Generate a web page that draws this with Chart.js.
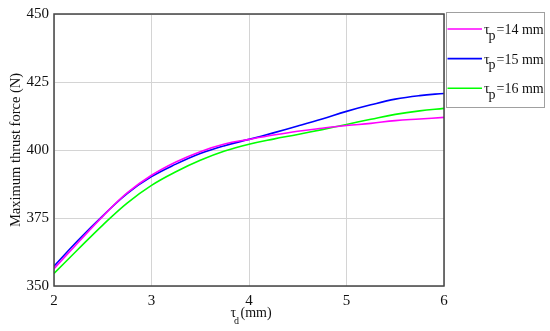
<!DOCTYPE html>
<html>
<head>
<meta charset="utf-8">
<script src="https://cdn.jsdelivr.net/npm/chart.js@4"></script>
<style>
html,body{margin:0;padding:0;background:#fff;}
canvas{display:block;}
</style>
</head>
<body>
<canvas id="c" width="550" height="331"></canvas>
<script>
const xValues = [2, 2.25, 2.5, 2.75, 3, 3.25, 3.5, 3.75, 4, 4.25, 4.5, 4.75, 5, 5.25, 5.5, 5.75, 6];
const seriesNames = ["14 mm", "15 mm", "16 mm"];
const tp14 = [356.4, 366.1, 375.6, 384.2, 390.7, 395.6, 399.4, 402.2, 403.9, 405.5, 406.9, 408.0, 409.0, 409.8, 410.8, 411.4, 412.0];
const tp15 = [357.3, 366.9, 375.8, 384.0, 390.2, 394.8, 398.7, 401.6, 403.9, 406.3, 408.8, 411.4, 414.2, 416.6, 418.7, 420.0, 420.8];
const tp16 = [354.6, 363.6, 372.4, 380.5, 387.0, 392.0, 396.2, 399.6, 402.1, 404.0, 405.7, 407.5, 409.4, 411.3, 413.1, 414.4, 415.3];
const xTicks = [2, 3, 4, 5, 6];
const yTicks = [350, 375, 400, 425, 450];
const colors = ["#ff00ff", "#0000ff", "#00ff00"];

const seriesValues = [tp14, tp15, tp16];
const datasets = seriesValues.map((vals, i) => ({
  label: seriesNames[i],
  data: xValues.map((x, j) => ({x: x, y: vals[j]})),
  borderColor: colors[i],
  backgroundColor: colors[i],
  borderWidth: 1.6,
  pointRadius: 0,
  fill: false,
  tension: 0.4
}));

const SERIF = "'Liberation Serif', 'Times New Roman', serif";

const deco = {
  id: 'deco',
  afterDraw(chart) {
    const ctx = chart.ctx;
    const a = chart.chartArea;
    ctx.save();
    // plot frame
    ctx.strokeStyle = '#444';
    ctx.lineWidth = 1.5;
    ctx.strokeRect(a.left, a.top, a.right - a.left, a.bottom - a.top);

    // legend
    const lx = 446, ly = 12, lw = 98, lh = 95;
    ctx.fillStyle = '#fff';
    ctx.fillRect(lx, ly, lw, lh);
    ctx.strokeStyle = '#a0a0a0';
    ctx.lineWidth = 1;
    ctx.strokeRect(lx + 0.5, ly + 0.5, lw, lh);
    chart.data.datasets.forEach((ds, i) => {
      const y = 29 + i * 29.6;
      ctx.strokeStyle = ds.borderColor;
      ctx.lineWidth = 1.6;
      ctx.beginPath();
      ctx.moveTo(447.5, y);
      ctx.lineTo(482, y);
      ctx.stroke();
      ctx.fillStyle = '#111';
      ctx.font = '14px ' + SERIF;
      ctx.textBaseline = 'alphabetic';
      ctx.textAlign = 'left';
      ctx.fillText('τ', 484, y + 5);
      ctx.fillText('p', 488.5, y + 10.5);
      ctx.fillText('=' + ds.label, 496.5, y + 5);
    });

    // x axis title
    ctx.fillStyle = '#111';
    ctx.font = '14px ' + SERIF;
    ctx.textAlign = 'left';
    ctx.textBaseline = 'alphabetic';
    ctx.fillText('τ', 230.5, 316.5);
    ctx.font = '10px ' + SERIF;
    ctx.fillText('d', 234, 324);
    ctx.font = '14px ' + SERIF;
    ctx.fillText(' (mm)', 237, 316.5);
    ctx.restore();
  }
};

new Chart(document.getElementById('c'), {
  type: 'line',
  data: { datasets: datasets },
  options: {
    responsive: false,
    animation: false,
    devicePixelRatio: 1,
    layout: { padding: { left: 0, right: 106, top: 13, bottom: 0 } },
    plugins: { legend: { display: false }, tooltip: { enabled: false } },
    scales: {
      x: {
        type: 'linear',
        min: 2, max: 6,
        afterBuildTicks: s => { s.ticks = xTicks.map(v => ({value: v})); },
        afterFit: s => { s.height = 45; },
        grid: { color: '#d4d4d4', drawTicks: false, lineWidth: 1 },
        border: { display: false },
        ticks: { padding: 6, color: '#111', font: { family: SERIF, size: 15 } }
      },
      y: {
        min: 350, max: 450,
        afterBuildTicks: s => { s.ticks = yTicks.map(v => ({value: v})); },
        afterFit: s => { s.width = 54; },
        grid: { color: '#d4d4d4', drawTicks: false, lineWidth: 1 },
        border: { display: false },
        ticks: { padding: 5, color: '#111', font: { family: SERIF, size: 15 } },
        title: {
          display: true,
          text: 'Maximum thrust force (N)',
          color: '#111',
          font: { family: SERIF, size: 14.5 },
          padding: { top: 7, bottom: 0 }
        }
      }
    }
  },
  plugins: [deco]
});
</script>
</body>
</html>
